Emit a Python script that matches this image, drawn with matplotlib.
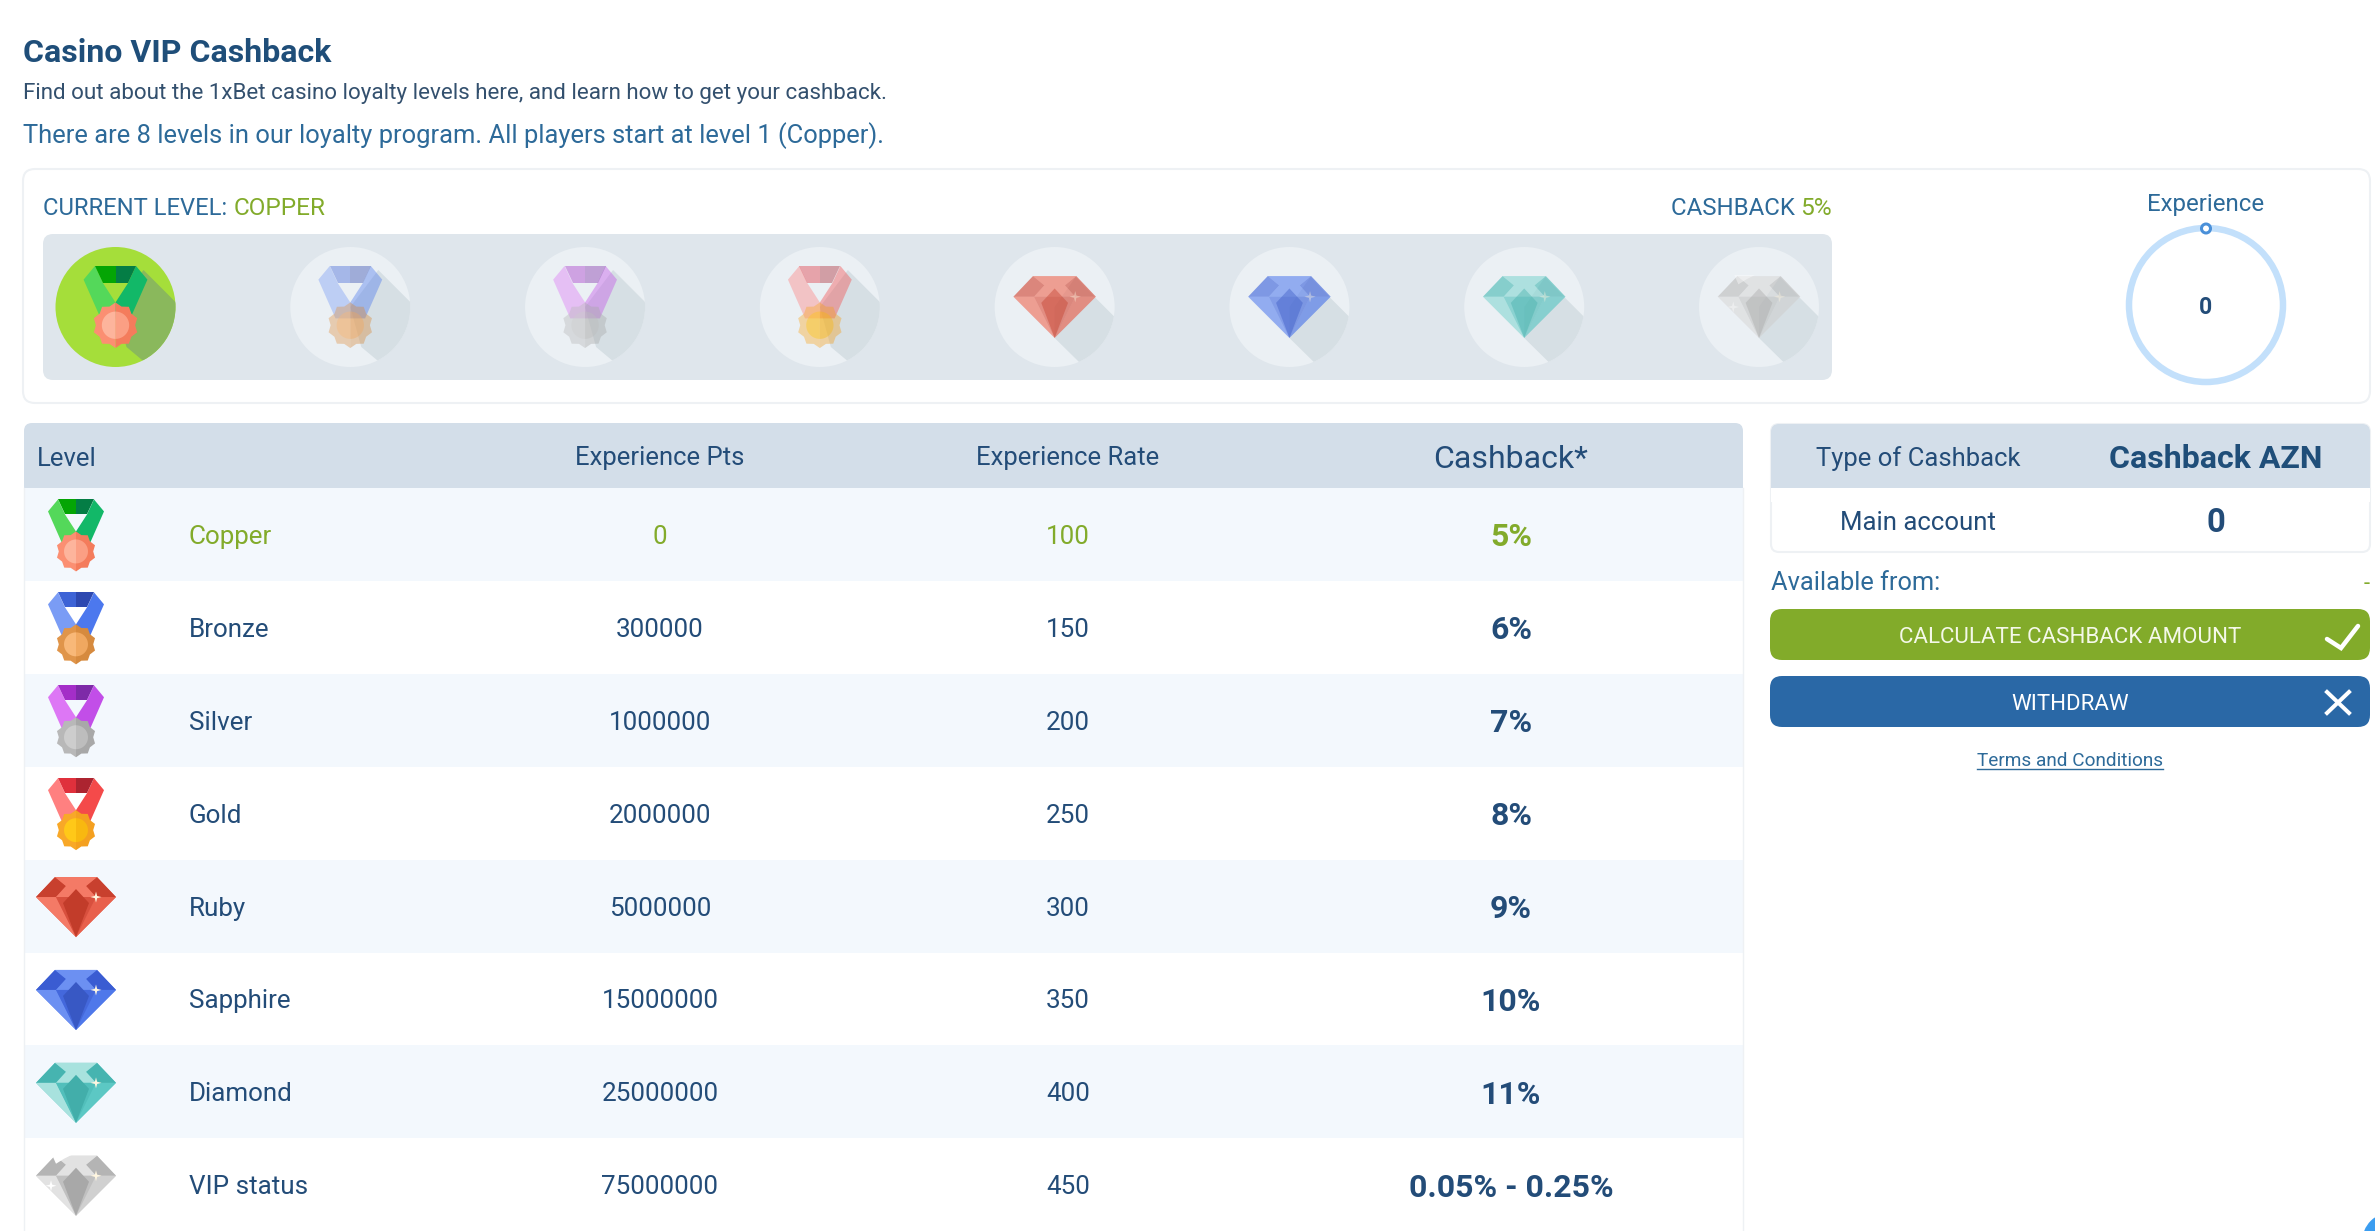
import matplotlib
matplotlib.use("Agg")
import matplotlib.pyplot as plt
from matplotlib.patches import FancyBboxPatch, Rectangle, Circle, Polygon
import numpy as np

plt.rcParams['font.family'] = ['Roboto', 'DejaVu Sans']

# ---- data ----
levels = ["Copper", "Bronze", "Silver", "Gold", "Ruby", "Sapphire", "Diamond", "VIP status"]
exp_pts = ["0", "300000", "1000000", "2000000", "5000000", "15000000", "25000000", "75000000"]
exp_rate = ["100", "150", "200", "250", "300", "350", "400", "450"]
cashback = ["5%", "6%", "7%", "8%", "9%", "10%", "11%", "0.05% - 0.25%"]
headers = ["Level", "Experience Pts", "Experience Rate", "Cashback*"]
title = "Casino VIP Cashback"
line1 = "Find out about the 1xBet casino loyalty levels here, and learn how to get your cashback."
line2 = "There are 8 levels in our loyalty program. All players start at level 1 (Copper)."
current_level = "COPPER"
current_cashback = "5%"
experience = "0"
main_account = "0"

# ---- colours ----
NAVY = "#234c78"
TEAL = "#2d6a99"
GREEN = "#82ab2b"
BLUE = "#2a68a6"
HEAD = "#d3dee9"
STRIPE = "#f3f8fd"
BAR = "#dfe6ec"
LINE = "#eef1f4"

# ribbon L, ribbon R, band L, band R, gear L, gear R, inner L, inner R
medal_cols = {
    "Copper": ("#54d85a", "#12b868", "#04a504", "#047d45", "#fb8f72", "#f47c5c", "#fdb49c", "#fb9f84"),
    "Bronze": ("#7a9cf5", "#4c78ee", "#3d63d6", "#2d48b0", "#e0954a", "#d68a3e", "#f8b878", "#f0a860"),
    "Silver": ("#dd77f5", "#c24ee8", "#a42ec8", "#7e2aa8", "#b8b8b8", "#a8a8a8", "#cdcdcd", "#bdbdbd"),
    "Gold": ("#ff8080", "#f44a4a", "#e0303c", "#ac2430", "#f8a828", "#f4a020", "#ffc818", "#f8b810"),
}
gem_cols = {
    "Ruby": ("#e8604c", "#f47a66", "#c8402e", "#d8503e", "#c23c2a"),
    "Sapphire": ("#4f78ea", "#6c90f2", "#3a5cd2", "#4468dc", "#3858c4"),
    "Diamond": ("#5cc8c4", "#a8e2de", "#46b4b0", "#52bfbb", "#42aeaa"),
    "VIP status": ("#d0d0d0", "#e2e2e2", "#b4b4b4", "#c0c0c0", "#a8a8a8"),
}


def rrect(ax, x0, y0, x1, y1, r, fc, ec="none", lw=0, z=1, alpha=None):
    p = FancyBboxPatch((x0 + r, y0 + r), x1 - x0 - 2 * r, y1 - y0 - 2 * r,
                       boxstyle=f"round,pad={r},rounding_size={r}",
                       fc=fc, ec=ec, lw=lw, zorder=z, alpha=alpha)
    ax.add_patch(p)
    return p


def gear_points(cy, r, teeth=10):
    a = np.linspace(0, 2 * np.pi, teeth * 2 + 1) - np.pi / 2
    rad = np.where(np.arange(teeth * 2 + 1) % 2 == 0, r, r * 0.86)
    return rad * np.cos(a), cy + rad * np.sin(a), a


def draw_medal(ax, cx, top, name, s=1.0, alpha=1.0, z=5):
    c = medal_cols[name]
    def P(pts, fc, zz=z):
        pts = np.array(pts, float)
        ax.add_patch(Polygon(np.c_[cx + pts[:, 0] * s, top + pts[:, 1] * s],
                             fc=fc, ec="none", alpha=alpha, zorder=zz))
    P([(-18, 0), (-28, 12), (-13, 46), (0, 46), (0, 32), (-11, 15)], c[0])
    P([(18, 0), (28, 12), (13, 46), (0, 46), (0, 32), (11, 15)], c[1])
    P([(-18, 0), (0, 0), (0, 15), (-11, 15)], c[2])
    P([(18, 0), (0, 0), (0, 15), (11, 15)], c[3])
    gx, gy, _ = gear_points(52, 20)
    n = len(gx) // 2
    P(np.c_[gx[:n + 1], gy[:n + 1]], c[5], z + 0.1)   # right half
    P(np.c_[gx[n:], gy[n:]], c[4], z + 0.1)           # left half
    t = np.linspace(-np.pi / 2, np.pi / 2, 24)
    P(np.c_[12 * np.cos(t), 52 + 12 * np.sin(t)], c[7], z + 0.2)
    P(np.c_[-12 * np.cos(t), 52 + 12 * np.sin(t)], c[6], z + 0.2)


def draw_gem(ax, cx, top, name, s=1.0, alpha=1.0, z=5):
    c = gem_cols[name]
    def P(pts, fc, zz=z):
        pts = np.array(pts, float)
        ax.add_patch(Polygon(np.c_[cx + pts[:, 0] * s, top + pts[:, 1] * s],
                             fc=fc, ec="none", alpha=alpha, zorder=zz))
    P([(-21, 0), (21, 0), (40, 20), (0, 60), (-40, 20)], c[0])
    P([(-21, 0), (-40, 20), (-20, 20), (-10, 9)], c[2], z + .01)
    P([(21, 0), (40, 20), (20, 20), (10, 9)], c[2], z + .01)
    P([(-21, 0), (21, 0), (10, 9), (20, 20), (-20, 20), (-10, 9)], c[1], z + .01)
    P([(-40, 20), (-20, 20), (0, 60)], c[1], z + .02)
    P([(40, 20), (20, 20), (0, 60)], c[0], z + .02)
    P([(-20, 20), (20, 20), (0, 60)], c[3], z + .03)
    P([(-13, 26), (0, 12), (13, 26), (0, 60)], c[4], z + .04)
    t = np.linspace(0, 2 * np.pi, 8, endpoint=False)
    rr = np.where(np.arange(8) % 2 == 0, 5.5, 1.6)
    P(np.c_[20 + rr * np.sin(t), 20 + rr * np.cos(t)], "#fff6e0", z + 0.2)
    if name == "VIP status":
        P([(-24, -1), (-4, -1), (-12, 3), (-20, 8)], "white", z + 0.1)
        P(np.c_[-25 + rr * np.sin(t), 30 + rr * np.cos(t)], "#ffffff", z + 0.2)


def draw_icon(ax, cx, cy, name, s=1.0, alpha=1.0, z=5):
    if name in medal_cols:
        draw_medal(ax, cx, cy - 36 * s, name, s, alpha, z)
    else:
        draw_gem(ax, cx, cy - 30 * s, name, s, alpha, z)


# ---- figure ----
fig = plt.figure(figsize=(23.75, 12.31), dpi=100, facecolor="white")
ax = fig.add_axes([0, 0, 1, 1])
ax.set_xlim(0, 2375)
ax.set_ylim(1231, 0)
ax.axis("off")

PX = 0.72  # pt per px at dpi 100
def T(x, y, s, size, color=NAVY, ha="left", weight="normal", **kw):
    return ax.text(x, y, s, fontsize=size * PX, color=color, ha=ha, va="center_baseline",
                   fontweight=weight, zorder=10, **kw)

# heading
T(23, 50, title, 32, "#1f4e79", weight="bold")
T(23, 91, line1, 22.4, "#33506e")
T(23, 133, line2, 25.5, TEAL)

# top panel
rrect(ax, 23, 169, 2370, 403, 12, "white", LINE, 1.5, z=1)
T(43, 206, "CURRENT LEVEL: ", 23.7, TEAL)
T(234, 206, current_level, 24.4, GREEN)
T(1671, 206, "CASHBACK ", 24, TEAL)
T(1800, 206, current_cashback, 24.5, GREEN)
rrect(ax, 43, 234, 1832, 380, 10, BAR, z=2)

icon_xs = np.linspace(115.5, 1759, len(levels))
for i, (x, name) in enumerate(zip(icon_xs, levels)):
    clip = Circle((x, 307), 60, transform=ax.transData)
    is_medal = name in medal_cols
    if i == 0:
        ax.add_patch(Circle((x, 307), 60, fc="#a5de3a", ec="none", zorder=3))
        shadow_c, a = "#8ab85c", 1.0
    else:
        ax.add_patch(Circle((x, 307), 60, fc="#ebf0f4", ec="none", zorder=3))
        shadow_c, a = "#d6dfe4", 0.4
    if is_medal:
        sh_off = [(28, -37), (95, 30), (65, 85), (11, 40), (0, 0)]
    else:
        sh_off = [(21, -30), (40, -10), (100, 50), (60, 90), (0, 31), (0, 0)]
    sh = Polygon([(x + dx, 307 + dy) for dx, dy in sh_off], fc=shadow_c, ec="none", zorder=4)
    ax.add_patch(sh)
    sh.set_clip_path(clip)
    draw_icon(ax, x, 307, name, s=1.14 if is_medal else 1.03, alpha=a)

# experience ring
T(2206, 202, "Experience", 24, TEAL, ha="center")
ax.add_patch(Circle((2206, 305), 77, fc="none", ec="#c3e0fb", lw=6.5 * PX, zorder=3))
ax.add_patch(Circle((2206, 228.5), 4.5, fc="white", ec="#4a90d9", lw=3 * PX, zorder=4))
T(2206, 305, experience, 23, NAVY, ha="center", weight="bold")

# main table
LEFT, RIGHT, HTOP, HBOT = 24, 1743, 423, 488
rrect(ax, LEFT, HTOP, RIGHT, HBOT + 12, 8, HEAD, z=2)
ROW = 92.9
col_x = [37, 660, 1068, 1511]
T(col_x[0], 456, headers[0], 25.6)
T(col_x[1], 456, headers[1], 25.6, ha="center")
T(col_x[2], 456, headers[2], 25.6, ha="center")
T(col_x[3], 456, headers[3], 32, ha="center")
for i, name in enumerate(levels):
    y0 = HBOT + i * ROW
    cy = y0 + ROW / 2
    col = "white" if i % 2 else STRIPE
    ax.add_patch(Rectangle((LEFT, y0), RIGHT - LEFT, ROW, fc=col, ec="none", zorder=3))
    tc = GREEN if i == 0 else NAVY
    draw_icon(ax, 76, cy + 1, name, z=5)
    T(189, cy, name, 26, tc)
    T(col_x[1], cy, exp_pts[i], 26, tc, ha="center")
    T(col_x[2], cy, exp_rate[i], 26, tc, ha="center")
    T(col_x[3], cy, cashback[i], 32, tc, ha="center", weight="bold")
ax.plot([LEFT, LEFT], [HBOT, 1231], color=LINE, lw=1, zorder=4)
ax.plot([RIGHT, RIGHT], [HBOT, 1231], color=LINE, lw=1, zorder=4)

# right table
RL, RR = 1771, 2370
rrect(ax, RL, 424, RR, 552, 8, "white", LINE, 1.5, z=2)
rrect(ax, RL, 424, RR, 500, 8, HEAD, z=3)
ax.add_patch(Rectangle((RL, 488), RR - RL, 14, fc="white", ec="none", zorder=3.1))
T(1918, 456, "Type of Cashback", 25.6, ha="center")
T(2216, 456, "Cashback AZN", 32, "#1f4e79", ha="center", weight="bold")
T(1918, 520, "Main account", 25.8, ha="center")
T(2216, 520, main_account, 33, ha="center", weight="bold")
T(1771, 581, "Available from:", 25.4, TEAL)
T(2370, 582, "-", 22, GREEN, ha="right")

# buttons
rrect(ax, 1770, 609, 2370, 660, 12, "#82ab2a", z=2)
rrect(ax, 1770, 676, 2370, 727, 12, BLUE, z=2)
T(2070, 635, "CALCULATE CASHBACK AMOUNT", 22.4, "#f4f8e8", ha="center")
T(2070, 702, "WITHDRAW", 22.3, "white", ha="center")
ax.plot([2327, 2341, 2358], [639, 648, 626], color="white", lw=4.5 * PX, zorder=5, solid_capstyle="round", solid_joinstyle="miter")
ax.plot([2327, 2349], [692, 713], color="white", lw=4 * PX, zorder=5)
ax.plot([2327, 2349], [713, 692], color="white", lw=4 * PX, zorder=5)
T(2070, 759, "Terms and Conditions", 19, TEAL, ha="center")
ax.plot([1977, 2163], [769, 769], color=TEAL, lw=1, zorder=5)

# corner chat bubble edge
ax.add_patch(Circle((2392, 1242), 30, fc="#3b9df0", ec="none", zorder=6))

fig.savefig("out.png", dpi=100, facecolor="white")
